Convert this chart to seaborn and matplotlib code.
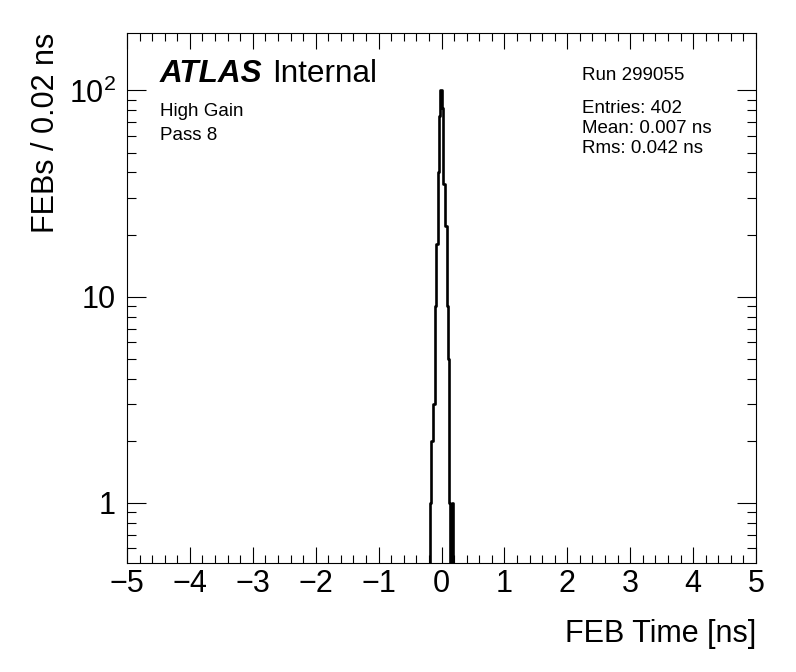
import numpy as np
import pandas as pd
import matplotlib
matplotlib.use("Agg")
import matplotlib.pyplot as plt
import matplotlib.ticker as mticker
import seaborn as sns

# ROOT / ATLAS-like look
sns.set_style("white")
plt.rcParams['font.family'] = ['Liberation Sans', 'DejaVu Sans']
plt.rcParams['mathtext.fontset'] = 'custom'
plt.rcParams['mathtext.rm'] = 'Liberation Sans'
plt.rcParams['mathtext.it'] = 'Liberation Sans:italic'
plt.rcParams['mathtext.bf'] = 'Liberation Sans:bold'
plt.rcParams.update({'text.color': 'black', 'axes.labelcolor': 'black',
                     'xtick.color': 'black', 'ytick.color': 'black',
                     'axes.edgecolor': 'black'})

# FEB time histogram, 0.02 ns bins, only non-empty region listed
bin_centers = [-0.17, -0.15, -0.13, -0.11, -0.09, -0.07, -0.05, -0.03, -0.01,
               0.01, 0.03, 0.05, 0.07, 0.09, 0.11, 0.13, 0.15, 0.17]
feb_counts = [1, 2, 3, 3, 9, 18, 40, 75, 100,
              82, 35, 35, 22, 9, 5, 1, 0, 1]

x_ticks = [-5, -4, -3, -2, -1, 0, 1, 2, 3, 4, 5]
y_ticks = [1, 10, 100]
y_tick_labels = ["1", "10", r"$\mathregular{10^{2}}$"]

stats_lines = ["Entries: 402", "Mean: 0.007 ns", "Rms: 0.042 ns"]

df = pd.DataFrame({"time": bin_centers, "count": feb_counts})

W, H = 796, 672
fig = plt.figure(figsize=(W / 100, H / 100), dpi=100)
ax = fig.add_axes([127 / W, 1 - 563 / H, 629 / W, 530 / H])

# 500 bins of 0.02 ns between -5 and 5
sns.histplot(data=df, x="time", weights="count", bins=500, binrange=(-5, 5),
             element="step", fill=False, color="black", linewidth=1.9, ax=ax)

ax.set_yscale("log")
ax.set_xlim(-5, 5)
ax.set_ylim(0.51, 190)

ax.xaxis.set_major_locator(mticker.FixedLocator(x_ticks))
ax.xaxis.set_minor_locator(mticker.MultipleLocator(0.2))
ax.xaxis.set_major_formatter(mticker.FuncFormatter(lambda v, p: f"{v:.0f}".replace("-", "\u2212")))
ax.yaxis.set_major_locator(mticker.FixedLocator(y_ticks))
ax.yaxis.set_major_formatter(mticker.FixedFormatter(y_tick_labels))
ax.yaxis.set_minor_locator(mticker.LogLocator(base=10, subs=np.arange(2, 10)))
ax.yaxis.set_minor_formatter(mticker.NullFormatter())

ax.tick_params(which="both", direction="in", top=True, right=True,
               bottom=True, left=True, width=0.8, color="black",
               labelcolor="black", labelsize=22)
ax.tick_params(axis="x", which="major", length=11.5, pad=4)
ax.tick_params(axis="x", which="minor", length=5.8)
ax.tick_params(axis="y", which="major", length=13.5, pad=8)
ax.tick_params(axis="y", which="minor", length=6.5)
for s in ax.spines.values():
    s.set_linewidth(0.8)
    s.set_color("black")

ax.set_xlabel("FEB Time [ns]", fontsize=22, loc="right")
ax.xaxis.set_label_coords(1.0, -0.105)
ax.set_ylabel("FEBs / 0.02 ns", fontsize=22, loc="top")
ax.yaxis.set_label_coords(-0.105, 1.0)

# ATLAS label and run info
fig.text(160 / W, 1 - 81.5 / H, "ATLAS", fontsize=22.7, weight="bold",
         style="italic", va="baseline")
fig.text(272 / W, 1 - 81.5 / H, "Internal", fontsize=22.7, va="baseline")
fig.text(160 / W, 1 - 115.5 / H, "High Gain", fontsize=13.5, va="baseline")
fig.text(160 / W, 1 - 140 / H, "Pass 8", fontsize=13.5, va="baseline")
fig.text(582 / W, 1 - 80 / H, "Run 299055", fontsize=13.5, va="baseline")
for i, line in enumerate(stats_lines):
    fig.text(582 / W, 1 - (113 + 20 * i) / H, line, fontsize=13.5, va="baseline")

fig.savefig("out.png", dpi=100, facecolor="white")
